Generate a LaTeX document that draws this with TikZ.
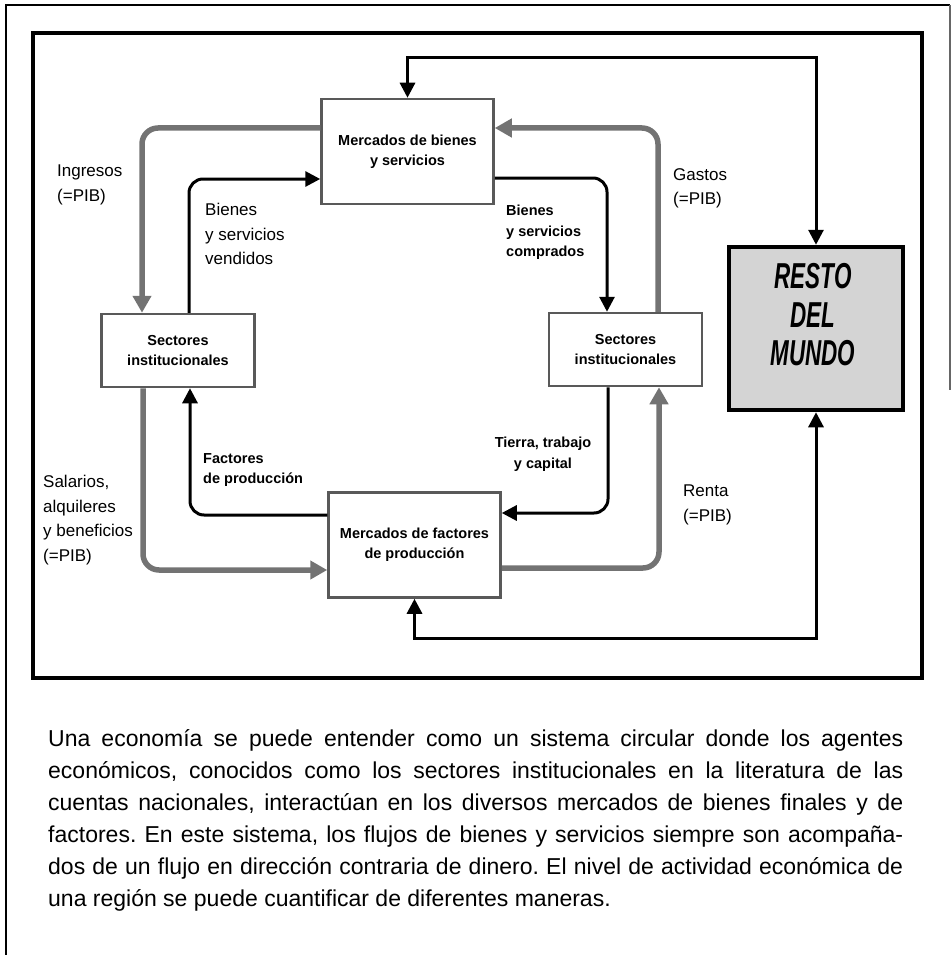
\documentclass[tikz,border=0pt]{standalone}
\usepackage{fontspec}
\setmainfont{Liberation Sans}
\usepackage{graphicx}
\usepackage{tikz}
\usetikzlibrary{shapes,arrows,arrows.meta,positioning}

\newcommand{\narrowtxt}[1]{\scalebox{0.66}[1.06]{#1}}

\begin{document}
\frenchspacing
\begin{tikzpicture}[x=1pt, y=-1pt]
    % Define styles
    \tikzstyle{market} = [rectangle, minimum width=172pt, minimum height=105pt, text centered, align=center, draw=black!65, line width=2.5pt, fill=white, inner sep=0pt, font=\fontsize{14.5}{20}\selectfont\bfseries]
    \tikzstyle{sector} = [market, minimum width=153pt, minimum height=73pt]
    \tikzstyle{world} = [rectangle, minimum width=174pt, minimum height=163pt, draw=black, line width=4.5pt, fill=black!17, inner sep=0pt]
    \tikzstyle{worldtext} = [align=center, inner sep=0pt, font=\fontsize{34}{38.5}\selectfont\bfseries\itshape]
    \tikzstyle{goods} = [draw=black, line width=3pt, rounded corners=14pt, ->, >={Triangle[length=15pt,width=15pt]}]
    \tikzstyle{money} = [draw=black!55, line width=5.5pt, rounded corners=16pt, ->, >={Triangle[length=17pt,width=18pt]}]
    \tikzstyle{worldlink} = [draw=black, line width=3pt, <->, >={Triangle[length=15pt,width=15pt]}]
    \tikzstyle{note} = [anchor=north west, align=left, inner sep=0pt, font=\fontsize{17}{24.5}\selectfont]
    \tikzstyle{notebold} = [note, font=\fontsize{14.5}{20.5}\selectfont\bfseries]

    \useasboundingbox (0,0) rectangle (951,955);

    % Frames
    \draw[line width=1.2pt] (6,955) -- (6,5) -- (950,5);
    \draw[line width=1.2pt, black!60] (950,5) -- (950,390);
    \draw[line width=3.5pt] (33,33) rectangle (922,678);

    % Nodes
    \node[market] (bienes) at (407.5,151.5) {Mercados de bienes\\y servicios};
    \node[sector] (secL) at (178,350.5) {Sectores\\institucionales};
    \node[sector] (secR) at (625.5,349.5) {Sectores\\institucionales};
    \node[market] (factores) at (414.5,545) {Mercados de factores\\de producción};
    \node[world] (resto) at (816,328.5) {};
    \node[worldtext] (restotxt) at (813,315) {\narrowtxt{RESTO}\\\narrowtxt{DEL}\\\narrowtxt{MUNDO}};
    \coordinate (topline) at (0,58);
    \coordinate (botline) at (0,638);

    % Labels
    \node[note] (ingresos) at (57,165) {Ingresos\\(=PIB)};
    \node[note] (vendidos) at (205,203) {Bienes\\y servicios\\vendidos};
    \node[note] (gastos) at (673,168) {Gastos\\(=PIB)};
    \node[notebold] (comprados) at (506,205) {Bienes\\y servicios\\comprados};
    \node[notebold] (factlbl) at (203,453) {Factores\\de producción};
    \node[note] (salarios) at (43,475) {Salarios,\\alquileres\\y beneficios\\(=PIB)};
    \node[notebold, anchor=north, align=center] (tierra) at (543,437) {Tierra, trabajo\\y capital};
    \node[note] (renta) at (683,485) {Renta\\(=PIB)};

    % Connections
    \draw[money] ([yshift=23.5pt]bienes.west) -| ([xshift=-36pt]secL.north);
    \draw[goods] ([xshift=11pt]secL.north) |- ([yshift=-27.5pt]bienes.west);
    \draw[money] ([xshift=32.5pt]secR.north) |- ([yshift=23.5pt]bienes.east);
    \draw[goods] ([yshift=-26.5pt]bienes.east) -| ([xshift=-18.5pt]secR.north);
    \draw[goods] ([yshift=30pt]factores.west) -| ([xshift=12pt]secL.south);
    \draw[money] ([xshift=-35pt]secL.south) |- ([yshift=-25pt]factores.west);
    \draw[goods] ([xshift=-17.5pt]secR.south) |- ([yshift=32pt]factores.east);
    \draw[money] ([yshift=-23pt]factores.east) -| ([xshift=33.5pt]secR.south);
    \draw[worldlink] (bienes.north) |- (topline -| resto.north) -- (resto.north);
    \draw[worldlink] (factores.south) |- (botline -| resto.south) -- (resto.south);

    % Text
    \node[anchor=north west, inner sep=0pt, text width=855pt, align=justify, font=\fontsize{23}{32}\selectfont] (texto) at (48,729) {Una economía se puede entender como un sistema circular donde los agentes\linebreak económicos, conocidos como los sectores institucionales en la literatura de las\linebreak cuentas nacionales, interactúan en los diversos mercados de bienes finales y de\linebreak factores. En este sistema, los flujos de bienes y servicios siempre son acompaña-\linebreak dos de un flujo en dirección contraria de dinero. El nivel de actividad económica de\linebreak una región se puede cuantificar de diferentes maneras.};
\end{tikzpicture}
\end{document}
